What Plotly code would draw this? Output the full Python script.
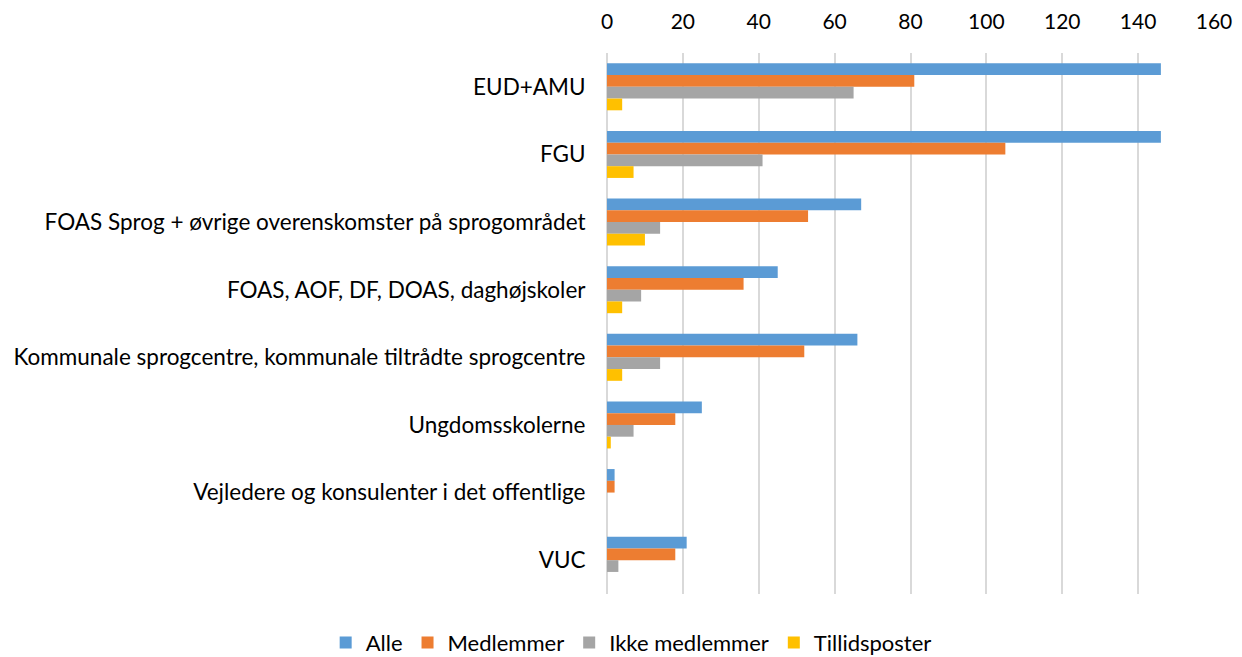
import plotly.graph_objects as go

categories = [
    "EUD+AMU",
    "FGU",
    "FOAS Sprog + øvrige overenskomster på sprogområdet",
    "FOAS, AOF, DF, DOAS, daghøjskoler",
    "Kommunale sprogcentre, kommunale tiltrådte sprogcentre",
    "Ungdomsskolerne",
    "Vejledere og konsulenter i det offentlige",
    "VUC",
]
alle = [146, 146, 67, 45, 66, 25, 2, 21]
medlemmer = [81, 105, 53, 36, 52, 18, 2, 18]
ikke_medlemmer = [65, 41, 14, 9, 14, 7, 0, 3]
tillidsposter = [4, 7, 10, 4, 4, 1, 0, 0]

series = [
    ("Alle", alle, "#5B9BD5"),
    ("Medlemmer", medlemmer, "#ED7D31"),
    ("Ikke medlemmer", ikke_medlemmer, "#A5A5A5"),
    ("Tillidsposter", tillidsposter, "#FFC000"),
]

fig = go.Figure()
for name, vals, color in series:
    fig.add_trace(go.Bar(
        y=categories, x=vals, name=name, orientation="h",
        marker=dict(color=color, line=dict(width=0)),
    ))

FONT = "Lato, Open Sans, Liberation Sans, sans-serif"
fig.update_layout(
    width=1234, height=649,
    barmode="group", bargap=0.305, bargroupgap=0,
    plot_bgcolor="white", paper_bgcolor="white",
    font=dict(family=FONT, size=22, color="#000000"),
    margin=dict(l=599, r=28, t=45, b=63),
    xaxis=dict(
        side="top", range=[0, 160], dtick=20, tick0=0,
        showgrid=True, gridcolor="#D9D9D9", gridwidth=1.5,
        zeroline=True, zerolinecolor="#D9D9D9", zerolinewidth=1.5,
        showline=False, ticks="outside", ticklen=15, tickcolor="rgba(0,0,0,0)",
        tickfont=dict(size=21), automargin=False,
    ),
    yaxis=dict(
        autorange="reversed", showgrid=False, showline=False,
        ticks="outside", ticklen=16, tickcolor="rgba(0,0,0,0)",
        tickfont=dict(size=22.5), automargin=False,
    ),
    legend=dict(
        orientation="h", xref="container", yref="container",
        x=0.505, xanchor="center", y=0.022, yanchor="middle",
        font=dict(size=22), traceorder="normal",
    ),
)

fig.write_html("out.html")
